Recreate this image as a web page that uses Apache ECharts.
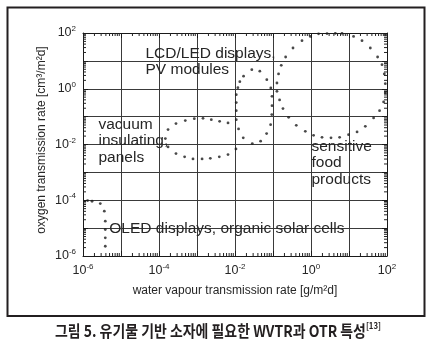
<!DOCTYPE html>
<html><head><meta charset="utf-8">
<script src="https://cdn.jsdelivr.net/npm/echarts@6/dist/echarts.min.js"></script>
<style>html,body{margin:0;padding:0;background:#fff}#c{width:434px;height:358px}</style>
</head><body><div id="c"></div>
<script>
// ---- data: [WVTR g/m2d, OTR cm3/m2d] ----
const oledPoints = [
  [1.32e-6, 9.75e-5], [1.73e-6, 9.2e-5], [2.85e-6, 7.62e-5], [3.64e-6, 4.04e-5],
  [3.86e-6, 1.77e-5], [3.86e-6, 8.91e-6], [3.86e-6, 4.49e-6], [3.86e-6, 2.24e-6]
];
const vacuumPoints = [
  [1.47e-4, 1.63e-2], [1.73e-4, 3.42e-2], [2.8e-4, 5.61e-2], [4.92e-4, 7.19e-2],
  [8.49e-4, 8.47e-2], [1.44e-3, 8.69e-2], [2.38e-3, 7.8e-2], [3.94e-3, 6.79e-2],
  [6.55e-3, 5.94e-2], [1.06e-2, 6.95e-3], [6.55e-3, 4.35e-3], [3.86e-3, 3.6e-3],
  [2.24e-3, 3.2e-3], [1.36e-3, 3.05e-3], [7.85e-4, 3.05e-3], [4.72e-4, 3.6e-3],
  [2.8e-4, 4.72e-3], [1.73e-4, 8.2e-3]
];
const lcdPoints = [
  [2.77e-2, 4.84], [4.5e-2, 4.28], [6.87e-2, 2.12], [8.75e-2, 1.07],
  [9.42e-2, 0.535], [9.42e-2, 0.248], [9.29e-2, 0.118], [8.65e-2, 5.16e-2],
  [6.79e-2, 2.46e-2], [4.72e-2, 1.32e-2], [2.85e-2, 1.08e-2], [1.65e-2, 1.73e-2],
  [1.24e-2, 3.62e-2], [1.08e-2, 7.8e-2], [1.08e-2, 0.164], [1.08e-2, 0.318],
  [1.08e-2, 0.615], [1.19e-2, 1.09], [1.34e-2, 1.79], [1.68e-2, 2.83]
];
const foodPoints = [
  [0.579, 53.0], [0.336, 29.0], [0.215, 13.8], [0.165, 6.9], [0.14, 3.39],
  [0.127, 1.61], [0.127, 0.807], [0.149, 0.397], [0.183, 0.194], [0.258, 0.0944],
  [0.41, 0.0488], [0.708, 0.0297], [1.17, 0.0214], [1.95, 0.0181], [3.36, 0.0173],
  [5.66, 0.0181], [9.75, 0.0226], [16.3, 0.0283], [26.9, 0.0449], [44.4, 0.0897],
  [63.8, 0.164], [81.5, 0.337], [90.2, 0.706], [90.2, 1.52], [84.9, 3.39],
  [73.8, 7.31], [56.6, 13.8], [36.4, 29.0], [22.0, 53.0], [13.2, 75.5],
  [6.55, 97.7], [4.36, 97.7], [2.64, 95.5], [1.58, 93.3], [0.959, 75.5]
];
// axis structure
const axisMin = 1e-6, axisMax = 1e2;
const decades = [-6, -5, -4, -3, -2, -1, 0, 1];
const minorMultipliers = [2, 3, 4, 5, 6, 7, 8, 9];
const minorTicks = [];
decades.forEach(d => minorMultipliers.forEach(m => minorTicks.push(m * Math.pow(10, d))));

const FONT = 'Liberation Sans, Arial, sans-serif';
const chart = echarts.init(document.getElementById('c'), null, {renderer: 'canvas'});

function labelFmt(v) {
  const e = Math.round(Math.log10(v));
  if (e % 2 !== 0) return '';
  return '{b|10}{s|' + e + '}';
}
const labelRich = {
  b: {fontSize: 12.5, lineHeight: 16, fontFamily: FONT, color: '#262626'},
  s: {fontSize: 8, lineHeight: 8, verticalAlign: 'top', fontFamily: FONT, color: '#262626'}
};
const lineBlack = {show: true, lineStyle: {color: '#1a1a1a', width: 1}};

function axisBase(extra) {
  return Object.assign({
    type: 'log', logBase: 10, min: axisMin, max: axisMax, splitNumber: 8,
    axisLine: lineBlack,
    axisTick: {show: true, inside: true, length: 5, lineStyle: {color: '#1a1a1a'}},
    minorTick: {show: false}
  }, extra);
}

function tickRender(isX) {
  return function (params, api) {
    const v = api.value(isX ? 0 : 1);
    const st = {stroke: '#222', lineWidth: 1};
    if (isX) {
      const b = api.coord([v, axisMin]), t = api.coord([v, axisMax]);
      return {type: 'group', children: [
        {type: 'line', shape: {x1: b[0], y1: b[1], x2: b[0], y2: b[1] - 3}, style: st},
        {type: 'line', shape: {x1: t[0], y1: t[1], x2: t[0], y2: t[1] + 3}, style: st}
      ]};
    } else {
      const l = api.coord([axisMin, v]), r = api.coord([axisMax, v]);
      return {type: 'group', children: [
        {type: 'line', shape: {x1: l[0], y1: l[1], x2: l[0] + 3, y2: l[1]}, style: st},
        {type: 'line', shape: {x1: r[0], y1: r[1], x2: r[0] - 3, y2: r[1]}, style: st}
      ]};
    }
  };
}

const dotStyle = {color: '#1c1c1c'};
function dots(name, pts) {
  return {name: name, type: 'scatter', data: pts, symbol: 'circle', symbolSize: 2.8,
          itemStyle: dotStyle, silent: true, z: 5};
}

function note(text, x, y) {
  return {type: 'text', x: x, y: y, z: 10, silent: true,
          style: {text: text, fontSize: 15.5, fontFamily: FONT, fill: '#262626',
                  textAlign: 'left', textVerticalAlign: 'middle'}};
}

chart.setOption({
  animation: false,
  backgroundColor: '#fff',
  grid: {left: 83, top: 33, width: 304, height: 223},
  xAxis: [
    axisBase({position: 'bottom',
      axisLabel: {formatter: labelFmt, rich: labelRich, margin: 7},
      splitLine: {show: true, lineStyle: {color: '#3a3a3a', width: 1}},
      name: 'water vapour transmission rate [g/m²d]', nameLocation: 'middle', nameGap: 29,
      nameTextStyle: {fontSize: 12, fontFamily: FONT, color: '#262626'}}),
    axisBase({position: 'top', axisLabel: {show: false}, splitLine: {show: false}})
  ],
  yAxis: [
    axisBase({position: 'left',
      axisLabel: {formatter: labelFmt, rich: labelRich, margin: 7},
      splitLine: {show: true, lineStyle: {color: '#3a3a3a', width: 1}}}),
    axisBase({position: 'right', axisLabel: {show: false}, splitLine: {show: false}})
  ],
  series: [
    {type: 'custom', renderItem: tickRender(true), data: minorTicks.map(v => [v, axisMin]), silent: true, z: 3},
    {type: 'custom', renderItem: tickRender(false), data: minorTicks.map(v => [axisMin, v]), silent: true, z: 3},
    dots('OLED', oledPoints),
    dots('vacuum', vacuumPoints),
    dots('LCD', lcdPoints),
    dots('food', foodPoints)
  ],
  graphic: [
    {type: 'rect', shape: {x: 7.5, y: 7.5, width: 417, height: 308.5}, silent: true,
     style: {fill: 'none', stroke: '#231f20', lineWidth: 2}},
    {type: 'text', x: 41.5, y: 140, rotation: Math.PI / 2, silent: true,
     style: {text: 'oxygen transmission rate [cm³/m²d]', fontSize: 12, fontFamily: FONT,
             fill: '#262626', textAlign: 'center', textVerticalAlign: 'middle'}},
    note('LCD/LED displays,', 145.5, 54),
    note('PV modules', 145.5, 70),
    note('vacuum', 98.5, 124.5),
    note('insulating,', 98.5, 141),
    note('panels', 98.5, 157.5),
    note('sensitive', 311.5, 146.5),
    note('food', 311.5, 163),
    note('products', 311.5, 180),
    note('OLED displays, organic solar cells', 109.3, 229),
    {type: 'text', x: 218, y: 330.5, scaleX: 0.87, silent: true,
     style: {text: '그림 5. 유기물 기반 소자에 필요한 WVTR과 OTR 특성{sup|[13]}',
             fontSize: 16, fontWeight: 'bold', fontFamily: 'Noto Sans CJK KR, sans-serif',
             fill: '#231f20', textAlign: 'center', textVerticalAlign: 'middle', lineHeight: 18,
             rich: {sup: {fontSize: 9, lineHeight: 9, verticalAlign: 'top', fontWeight: 'bold',
                          fontFamily: 'Noto Sans CJK KR, sans-serif', fill: '#231f20'}}}}
  ]
});
</script></body></html>
